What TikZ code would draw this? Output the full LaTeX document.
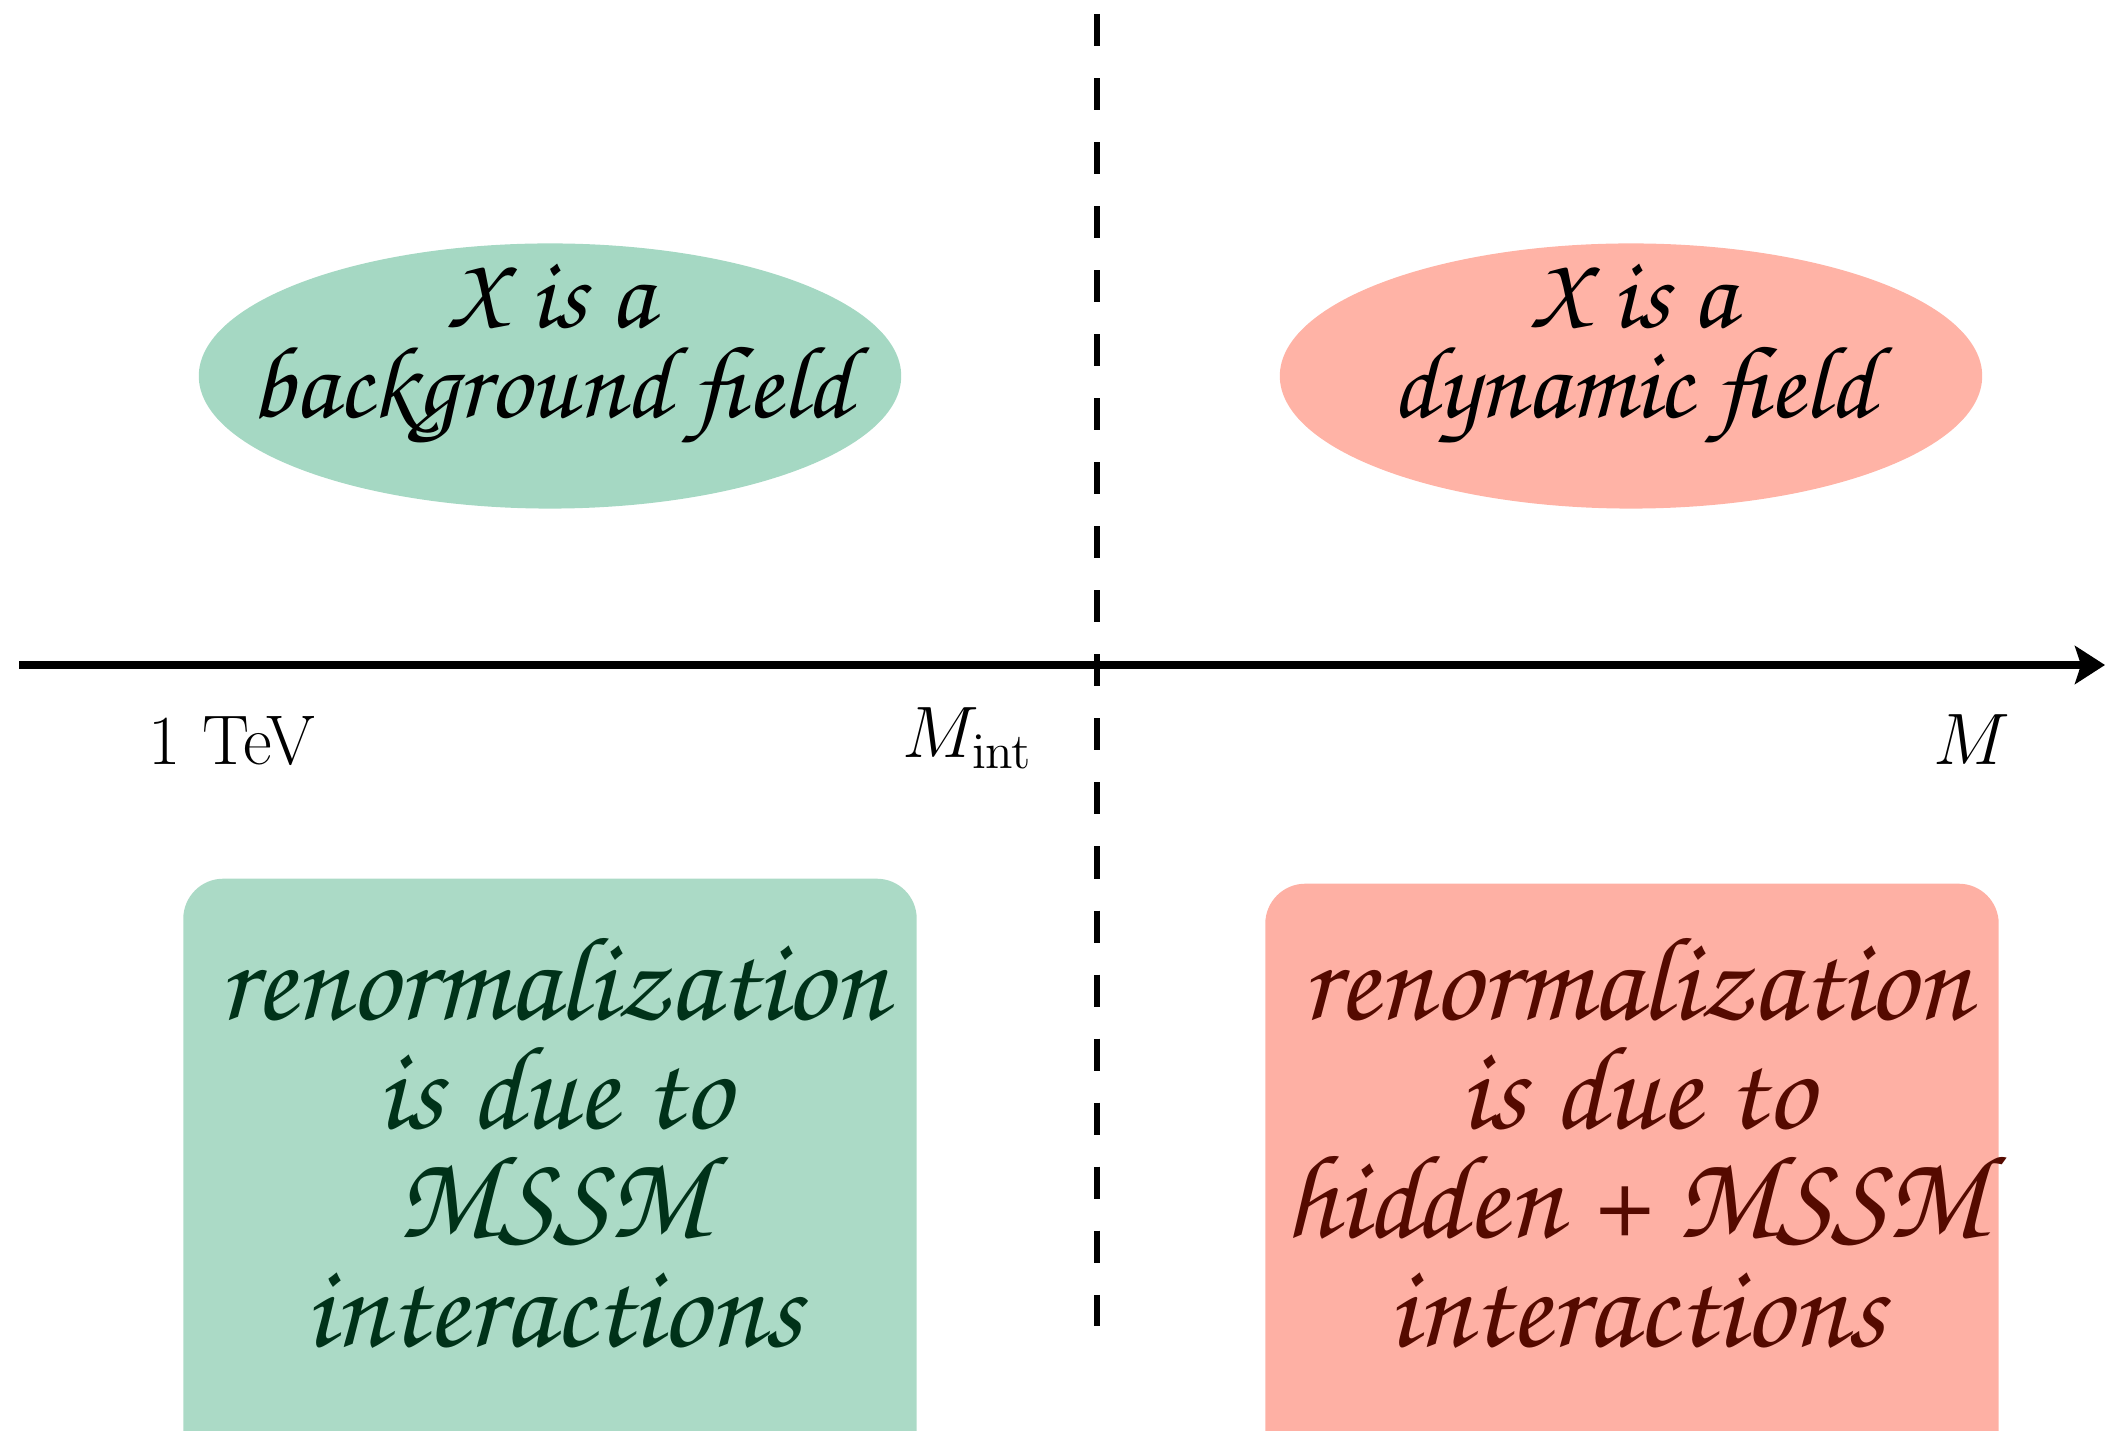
\documentclass[tikz,border=0pt]{standalone}
\usepackage[T1,TU]{fontenc}
\usetikzlibrary{arrows.meta,shapes.geometric}
\definecolor{gEll}{RGB}{165,216,195}
\definecolor{gBox}{RGB}{171,218,198}
\definecolor{rEll}{RGB}{255,179,166}
\definecolor{rBox}{RGB}{254,176,164}
\definecolor{gTxt}{RGB}{0,50,25}
\definecolor{rTxt}{RGB}{85,10,0}
\newcommand{\chanc}{\fontencoding{T1}\fontfamily{pzc}\fontseries{mb}\fontshape{it}\selectfont}
\tikzset{
  ell/.style={ellipse, minimum width=7.02cm, minimum height=2.65cm, inner sep=0pt},
  elltext/.style={align=center, inner sep=0pt, font=\chanc\fontsize{29.3}{25.6}\selectfont},
  boxshape/.style={rectangle, rounded corners=0.4cm, minimum width=7.33cm, minimum height=6.2cm, inner sep=0pt},
  boxtext/.style={align=center, inner sep=0pt, font=\chanc\fontsize{34}{31}\selectfont},
  axislabel/.style={anchor=base, inner sep=0pt, font=\fontsize{20}{24}\selectfont},
}
\begin{document}
\begin{tikzpicture}[x=0.01cm,y=-0.01cm]
\useasboundingbox (0,0) rectangle (2105,1431);
\clip (0,0) rectangle (2105,1431);
% dashed line
\coordinate (dtop) at (1097,14);
\coordinate (dbot) at (1097,1326);
\draw[line width=1.8pt, dash pattern=on 0.32cm off 0.32cm] (dtop) -- (dbot);
% axis
\coordinate (ax0) at (19,665);
\coordinate (ax1) at (2105,665);
\draw[line width=2.3pt, -{Stealth[length=0.3cm,width=0.38cm,inset=0.06cm]}] (ax0) -- (ax1);
\node[axislabel] (tev) at (232,765) {1 TeV};
\node[axislabel] (mint) at (968,758) {$M_{\mathrm{int}}$};
\node[axislabel] (mm) at (1972,765) {$M$};
% ellipses
\node[ell, fill=gEll] (ge) at (550,376) {};
\node[elltext] (get) at (551,357) {X is a\\background field};
\node[ell, fill=rEll] (re) at (1631,376) {};
\node[elltext] (ret) at (1633,357) {X is a\\dynamic field};
% boxes
\node[boxshape, fill=gBox, anchor=north] (gb) at (550,878) {};
\node[boxtext, text=gTxt] (gbt) at (553,1141) {renormalization\\is due to\\MSSM\\interactions};
\node[boxshape, fill=rBox, anchor=north] (rb) at (1632,883) {};
\node[boxtext, text=rTxt] (rbt) at (1636,1141) {renormalization\\is due to\\hidden + MSSM\\interactions};
\end{tikzpicture}
\end{document}
